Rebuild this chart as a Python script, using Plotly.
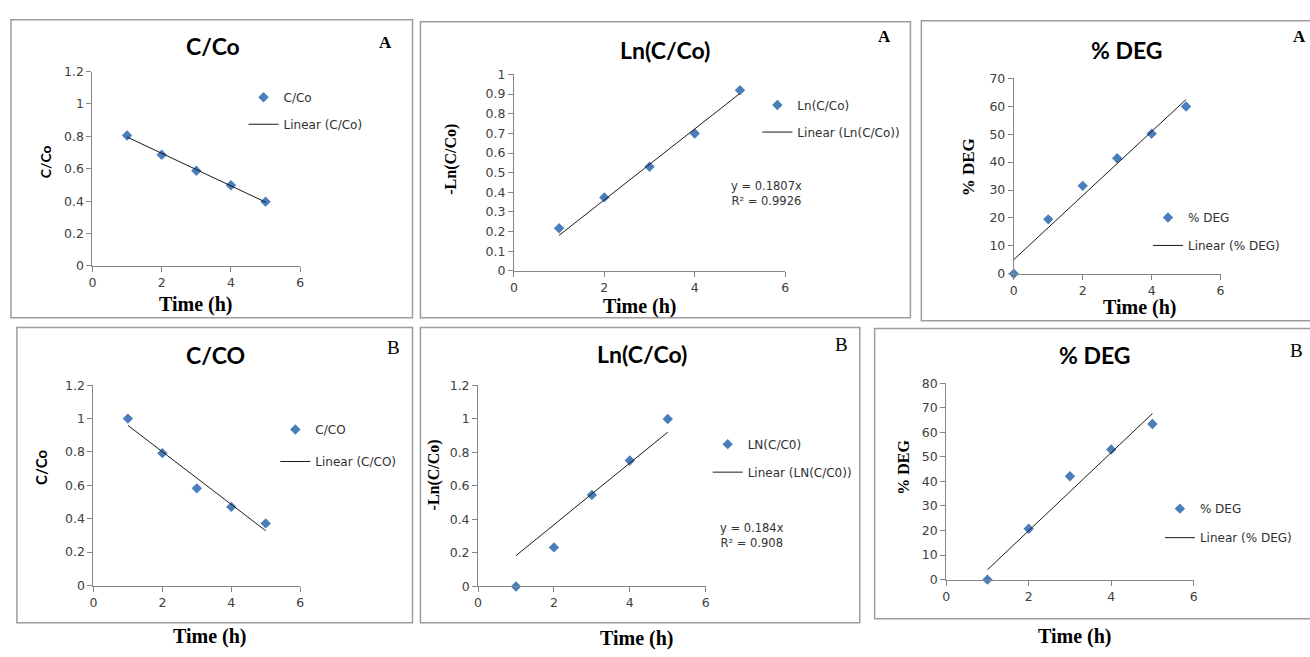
import numpy as np
import plotly.graph_objects as go

# ---- data -------------------------------------------------------------
hours_a = [1, 2, 3, 4, 5]
c_co_a = [0.805, 0.686, 0.588, 0.498, 0.397]
ln_a = [0.217, 0.374, 0.53, 0.699, 0.92]
deg_hours_a = [0, 1, 2, 3, 4, 5]
deg_a = [0, 19.5, 31.5, 41.4, 50.2, 59.9]

hours_b = [1, 2, 3, 4, 5]
c_co_b = [1.0, 0.793, 0.582, 0.471, 0.372]
ln_b = [0, 0.233, 0.546, 0.751, 0.998]
deg_b = [0, 20.7, 42.1, 53.0, 63.4]

# reported trendlines (through the origin) for the -ln plots
slope_ln_a, r2_ln_a = 0.1807, 0.9926
slope_ln_b, r2_ln_b = 0.184, 0.908

time_ticks = [0, 2, 4, 6]

# ---- page geometry ------------------------------------------------------
W, H = 1310, 657


def px(x):
    return x / W


def py(y):
    return 1 - y / H


MARKER = "#4A7EBB"
AXIS = "#868686"
SANS = "DejaVu Sans, Verdana, sans-serif"
TICKFONT = dict(family=SANS, size=12.5, color="#404040")
LEGFONT = dict(family=SANS, size=12, color="#303030")
SANS_BOLD = "Lato, Calibri, sans-serif"
SERIF = "Liberation Serif, Times New Roman, serif"

fig = go.Figure()


def linear_fit(x, y):
    k, b = np.polyfit(np.asarray(x, float), np.asarray(y, float), 1)
    xs = np.array([min(x), max(x)], float)
    return xs, k * xs + b


def origin_fit(x, slope):
    xs = np.array([min(x), max(x)], float)
    return xs, slope * xs


# panel definitions: data, axis layout and text placement
panels = [
    dict(x=hours_a, y=c_co_a, fit=linear_fit(hours_a, c_co_a),
         name="C/Co", fitname="Linear (C/Co)",
         dom=(89, 298, 65, 264), yr=(0, 1.2), dy=0.2,
         title="C/Co", tpos=(210, 39),
         letter="<b>A</b>", lpos=(384, 35), lsize=17,
         ytitle="<b>C/Co</b>", ytfont=(SANS_BOLD, 14), ytpos=(42, 157),
         xtpos=(193, 303), leg=(246, 91, 8)),
    dict(x=hours_a, y=ln_a, fit=origin_fit(hours_a, slope_ln_a),
         name="Ln(C/Co)", fitname="Linear (Ln(C/Co))",
         dom=(513, 786, 68, 269), yr=(0, 1.0), dy=0.1,
         title="Ln(C/Co)", tpos=(665, 43),
         letter="<b>A</b>", lpos=(886, 29), lsize=17,
         ytitle="<b>-Ln(C/Co)</b>", ytfont=(SERIF, 16), ytpos=(450, 155),
         xtpos=(640, 305), leg=(763, 99, 8),
         eq=(f"y = {slope_ln_a}x<br>R² = {r2_ln_a}", 767, 190)),
    dict(x=deg_hours_a, y=deg_a, fit=linear_fit(deg_hours_a, deg_a),
         name="% DEG", fitname="Linear (% DEG)",
         dom=(1016, 1224, 72, 272), yr=(0, 70), dy=10,
         title="% DEG", tpos=(1130, 43),
         letter="<b>A</b>", lpos=(1303, 29), lsize=17,
         ytitle="<b>% DEG</b>", ytfont=(SERIF, 17), ytpos=(970, 163),
         xtpos=(1143, 307), leg=(1156, 214, 9)),
    dict(x=hours_b, y=c_co_b, fit=linear_fit(hours_b, c_co_b),
         name="C/CO", fitname="Linear (C/CO)",
         dom=(90, 298, 386, 591), yr=(0, 1.2), dy=0.2,
         title="C/CO", tpos=(213, 355),
         letter="B", lpos=(392, 347), lsize=19,
         ytitle="<b>C/Co</b>", ytfont=(SANS_BOLD, 15), ytpos=(38, 470),
         xtpos=(207, 643), leg=(278, 431, 13)),
    dict(x=hours_b, y=ln_b, fit=origin_fit(hours_b, slope_ln_b),
         name="LN(C/C0)", fitname="Linear (LN(C/C0))",
         dom=(477, 706, 386, 592), yr=(0, 1.2), dy=0.2,
         title="Ln(C/Co)", tpos=(642, 354),
         letter="B", lpos=(843, 344), lsize=19,
         ytitle="<b>-Ln(C/Co)</b>", ytfont=(SERIF, 16), ytpos=(433, 478),
         xtpos=(637, 645), leg=(713, 446, 9),
         eq=(f"y = {slope_ln_b}x<br>R² = {r2_ln_b}", 753, 540)),
    dict(x=hours_b, y=deg_b, fit=linear_fit(hours_b, deg_b),
         name="% DEG", fitname="Linear (% DEG)",
         dom=(948, 1197, 384, 585), yr=(0, 80), dy=10,
         title="% DEG", tpos=(1098, 355),
         letter="B", lpos=(1300, 350), lsize=19,
         ytitle="<b>% DEG</b>", ytfont=(SERIF, 16), ytpos=(905, 470),
         xtpos=(1078, 643), leg=(1168, 512, 10)),
]

# chart frames
frames = [
    (7, 12, 411, 317),
    (419, 14, 912, 317),
    (923, 13, 1315, 320),
    (13, 327, 411, 629),
    (419, 327, 861, 629),
    (876, 328, 1315, 625),
]

shapes = []
for x0, y0, x1, y1 in frames:
    shapes.append(dict(type="rect", xref="paper", yref="paper",
                       x0=px(x0), x1=px(x1), y0=py(y1), y1=py(y0),
                       line=dict(color="#9C9C9C", width=1.5),
                       fillcolor="rgba(0,0,0,0)", layer="below"))

annotations = []
layout = {}

for i, p in enumerate(panels, start=1):
    sfx = "" if i == 1 else str(i)
    xa, ya = f"x{sfx}", f"y{sfx}"
    leg = "legend" if i == 1 else f"legend{i}"

    fig.add_trace(go.Scatter(
        x=p["x"], y=p["y"], mode="markers", name=p["name"],
        marker=dict(symbol="diamond", size=8, color=MARKER),
        xaxis=xa, yaxis=ya, legend=leg, legendgroup=f"m{i}",
        cliponaxis=False, showlegend=True))
    fx, fy = p["fit"]
    fig.add_trace(go.Scatter(
        x=fx, y=fy, mode="lines", name=p["fitname"],
        line=dict(color="#1a1a1a", width=1),
        xaxis=xa, yaxis=ya, legend=leg, legendgroup=f"l{i}",
        cliponaxis=False, showlegend=True))

    x0, x1, y0, y1 = p["dom"]
    layout[f"xaxis{sfx}"] = dict(
        domain=[px(x0), px(x1)], anchor=ya, range=[0, 6],
        tickvals=time_ticks, showline=True, linecolor=AXIS, linewidth=1,
        ticks="outside", ticklen=5, tickcolor=AXIS, showgrid=False,
        zeroline=False, tickfont=TICKFONT, fixedrange=True)
    ymin, ymax = p["yr"]
    layout[f"yaxis{sfx}"] = dict(
        domain=[py(y1), py(y0)], anchor=xa, range=[ymin, ymax],
        dtick=p["dy"], tick0=0, showline=True, linecolor=AXIS, linewidth=1,
        ticks="outside", ticklen=5, tickcolor=AXIS, showgrid=False,
        zeroline=False, tickfont=TICKFONT, fixedrange=True)

    lx, ly, gap = p["leg"]
    layout[leg] = dict(
        x=px(lx - 5), y=py(ly - 14.5), xanchor="left", yanchor="top",
        bgcolor="rgba(0,0,0,0)", font=LEGFONT, tracegroupgap=gap,
        itemclick=False, itemdoubleclick=False)

    tx, ty = p["tpos"]
    annotations.append(dict(
        text=f"<b>{p['title']}</b>", x=px(tx), y=py(ty), xref="paper",
        yref="paper", showarrow=False, xanchor="center", yanchor="middle",
        font=dict(family=SANS_BOLD, size=23, color="#000")))
    lx2, ly2 = p["lpos"]
    annotations.append(dict(
        text=p["letter"], x=px(lx2), y=py(ly2), xref="paper", yref="paper",
        showarrow=False, xanchor="center", yanchor="middle",
        font=dict(family=SERIF, size=p["lsize"], color="#000")))
    fam, size = p["ytfont"]
    yx, yy = p["ytpos"]
    annotations.append(dict(
        text=p["ytitle"], x=px(yx), y=py(yy), xref="paper", yref="paper",
        showarrow=False, textangle=-90, xanchor="center", yanchor="middle",
        font=dict(family=fam, size=size, color="#000")))
    xx, xy = p["xtpos"]
    annotations.append(dict(
        text="<b>Time (h)</b>", x=px(xx), y=py(xy), xref="paper",
        yref="paper", showarrow=False, xanchor="center", yanchor="middle",
        font=dict(family=SERIF, size=20, color="#000")))
    if "eq" in p:
        etext, ex, ey = p["eq"]
        annotations.append(dict(
            text=etext, x=px(ex), y=py(ey), xref="paper", yref="paper",
            showarrow=False, xanchor="center", yanchor="middle",
            align="center",
            font=dict(family=SANS, size=11.5, color="#333")))

fig.update_layout(
    width=W, height=H, margin=dict(l=0, r=0, t=0, b=0),
    paper_bgcolor="white", plot_bgcolor="white",
    shapes=shapes, annotations=annotations, **layout)

fig.write_html("out.html")
